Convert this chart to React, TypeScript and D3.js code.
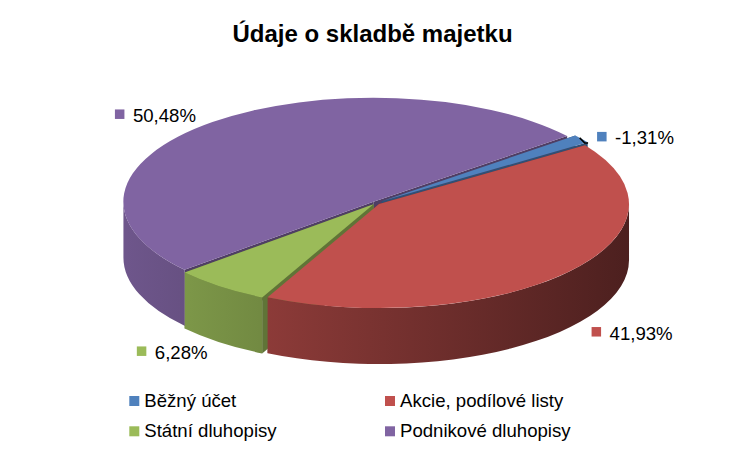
import React, { useEffect, useRef } from "react";
import * as d3 from "d3";

const title = "Údaje o skladbě majetku";
const categories = ["Běžný účet", "Akcie, podílové listy", "Státní dluhopisy", "Podnikové dluhopisy"];
const values = [-1.31, 41.93, 6.28, 50.48];
const colors = ["#4F81BD", "#C0504D", "#9BBB59", "#8064A2"];
const explodePx = [7, 4, 4, 4];
const labelNudge: [number, number][] = [
  [1, 3.5],
  [8, -1],
  [0, 3],
  [-3, 0],
];

const W = 750;
const H = 461;
const CX = 376;
const CY = 203;
const RX = 250;
const RY = 104;
const DEPTH = 56;
const START_DEG = 50.8;
const FONT = "'Liberation Sans', Arial, sans-serif";

function shade(c: string, k: number) {
  const col = d3.rgb(c);
  return d3.rgb(col.r * k, col.g * k, col.b * k).formatHex();
}

export default function App() {
  const ref = useRef<SVGSVGElement>(null);

  useEffect(() => {
    const svg = d3.select(ref.current);
    svg.selectAll("*").remove();

    const start = (START_DEG * Math.PI) / 180;
    const pie = d3
      .pie<number>()
      .value((d) => Math.abs(d))
      .sort(null)
      .startAngle(start)
      .endAngle(start + 2 * Math.PI);
    const arcs = pie(values);

    const defs = svg.append("defs");
    colors.forEach((c, i) => {
      const g = defs
        .append("linearGradient")
        .attr("id", "side" + i)
        .attr("gradientUnits", "userSpaceOnUse")
        .attr("x1", CX - RX)
        .attr("x2", CX + RX)
        .attr("y1", 0)
        .attr("y2", 0);
      g.append("stop").attr("offset", 0).attr("stop-color", shade(c, 0.86));
      g.append("stop").attr("offset", 1).attr("stop-color", shade(c, 0.4));
    });

    const slices = arcs.map((a, i) => {
      const m = (a.startAngle + a.endAngle) / 2;
      const e = explodePx[i];
      return {
        i,
        a0: a.startAngle,
        a1: a.endAngle,
        m,
        dx: e * Math.sin(m),
        dy: (-e * Math.cos(m) * RY) / RX,
      };
    });

    type S = (typeof slices)[number];
    const pt = (s: S, t: number, dz = 0): [number, number] => [
      CX + s.dx + RX * Math.sin(t),
      CY + s.dy - RY * Math.cos(t) + dz,
    ];
    const ctr = (s: S, dz = 0): [number, number] => [CX + s.dx, CY + s.dy + dz];
    const P = (p: [number, number]) => `${p[0].toFixed(2)},${p[1].toFixed(2)}`;

    const gWalls = svg.append("g");
    const gSides = svg.append("g");
    const gTops = svg.append("g");

    // walls
    const walls: { s: S; t: number }[] = [];
    slices.forEach((s) => {
      walls.push({ s, t: s.a0 });
      walls.push({ s, t: s.a1 });
    });
    walls.sort((a, b) => pt(a.s, a.t)[1] - pt(b.s, b.t)[1]);
    walls.forEach(({ s, t }) => {
      gWalls
        .append("path")
        .attr(
          "d",
          `M${P(ctr(s))}L${P(pt(s, t))}L${P(pt(s, t, DEPTH))}L${P(ctr(s, DEPTH))}Z`
        )
        .attr("fill", shade(colors[s.i], 0.62));
    });

    // sides (front half only)
    slices.forEach((s) => {
      for (let n = 0; n < 2; n++) {
        const lo = Math.PI / 2 + 2 * Math.PI * n;
        const hi = (3 * Math.PI) / 2 + 2 * Math.PI * n;
        const t0 = Math.max(s.a0, lo);
        const t1 = Math.min(s.a1, hi);
        if (t1 <= t0) continue;
        const d =
          `M${P(pt(s, t0))}A${RX},${RY} 0 0 1 ${P(pt(s, t1))}` +
          `L${P(pt(s, t1, DEPTH))}A${RX},${RY} 0 0 0 ${P(pt(s, t0, DEPTH))}Z`;
        gSides.append("path").attr("d", d).attr("fill", `url(#side${s.i})`);
      }
    });

    // tops
    slices.forEach((s) => {
      const large = s.a1 - s.a0 > Math.PI ? 1 : 0;
      const d = `M${P(ctr(s))}L${P(pt(s, s.a0))}A${RX},${RY} 0 ${large} 1 ${P(
        pt(s, s.a1)
      )}Z`;
      gTops.append("path").attr("d", d).attr("fill", colors[s.i]);
    });

    // data labels
    const fmt = (v: number) =>
      d3.format(".2f")(v).replace("\u2212", "-").replace(".", ",") + "%";
    const gLab = svg.append("g").style("font-family", FONT).style("font-size", "18.6px");
    const K = 1.1;
    slices.forEach((s) => {
      const front = Math.cos(s.m) < 0;
      const ax = CX + RX * K * Math.sin(s.m) + labelNudge[s.i][0];
      const ay = CY - RY * K * Math.cos(s.m) + (front ? DEPTH : 0) + labelNudge[s.i][1];
      const base = ay + 6.5;
      const txt = gLab
        .append("text")
        .attr("y", base)
        .attr("fill", "#000")
        .text(fmt(values[s.i]));
      const right = Math.sin(s.m) > 0;
      let sqX: number;
      if (right) {
        sqX = ax;
        txt.attr("x", ax + 18);
      } else {
        txt.attr("x", ax).attr("text-anchor", "end");
        const w = (txt.node() as SVGTextElement).getComputedTextLength();
        sqX = ax - w - 18;
      }
      gLab
        .append("rect")
        .attr("x", sqX)
        .attr("y", base - 12.5)
        .attr("width", 9.5)
        .attr("height", 9.5)
        .attr("fill", colors[s.i]);
      if (Math.abs(values[s.i]) < 3) {
        const p0 = pt(s, s.m);
        const p1: [number, number] = [p0[0] - 2, p0[1] - 1];
        const p2: [number, number] = [p1[0] + 5, p1[1] + 5];
        const p3: [number, number] = [sqX - 9, p2[1]];
        svg
          .append("path")
          .attr("d", `M${P(p1)}L${P(p2)}L${P(p3)}`)
          .attr("fill", "none")
          .attr("stroke", "#000")
          .attr("stroke-width", 1.5);
      }
    });

    // title
    svg
      .append("text")
      .attr("x", 372.5)
      .attr("y", 42)
      .attr("text-anchor", "middle")
      .style("font-family", FONT)
      .style("font-size", "24px")
      .style("font-weight", "bold")
      .text(title);

    // legend
    const cols = [129.3, 385];
    const rows = [406.7, 437];
    const gLeg = svg.append("g").style("font-family", FONT).style("font-size", "18.6px");
    categories.forEach((c, i) => {
      const x = cols[i % 2];
      const y = rows[Math.floor(i / 2)];
      gLeg
        .append("rect")
        .attr("x", x)
        .attr("y", y - 10.7)
        .attr("width", 10)
        .attr("height", 10)
        .attr("fill", colors[i]);
      gLeg.append("text").attr("x", x + 15).attr("y", y).attr("fill", "#000").text(c);
    });
  }, []);

  return (
    <svg
      ref={ref}
      width={W}
      height={H}
      style={{ position: "absolute", left: 0, top: 0, background: "#fff" }}
    />
  );
}
